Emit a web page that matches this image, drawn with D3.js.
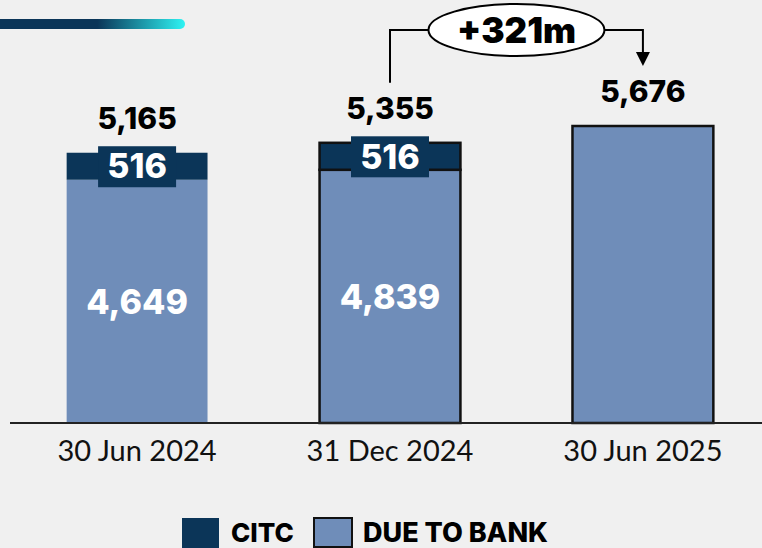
<!DOCTYPE html>
<html>
<head>
<meta charset="utf-8">
<script src="https://cdn.jsdelivr.net/npm/d3@7"></script>
<style>
  html, body { margin: 0; padding: 0; background: #f0f0f0; }
  svg { display: block; }
</style>
</head>
<body>
<div id="chart"></div>
<script>
// ---------------- data ----------------
var categories = ["30 Jun 2024", "31 Dec 2024", "30 Jun 2025"];
var dueToBank = [4649, 4839, 5676];
var citc = [516, 516, 0];
var totals = [5165, 5355, 5676];
var changeLabel = "+321m";
var legendLabels = ["CITC", "DUE TO BANK"];

// ---------------- setup ----------------
var svgWidth = 762, svgHeight = 548;
var navy = "#0b3558", blue = "#6f8db9";
var boldFont = "Inter, 'Noto Sans', sans-serif";

var svg = d3.select("#chart").append("svg")
    .attr("width", svgWidth)
    .attr("height", svgHeight);

svg.append("rect").attr("width", svgWidth).attr("height", svgHeight).attr("fill", "#f0f0f0");

// header accent bar
var grad = svg.append("defs").append("linearGradient").attr("id", "hdr");
grad.append("stop").attr("offset", "0%").attr("stop-color", navy);
grad.append("stop").attr("offset", "55%").attr("stop-color", navy);
grad.append("stop").attr("offset", "100%").attr("stop-color", "#2ef3f3");
svg.append("rect").attr("x", -10).attr("y", 19).attr("width", 195).attr("height", 10)
    .attr("rx", 5).attr("fill", "url(#hdr)");

var x = d3.scaleBand()
    .domain(categories)
    .range([10, 770])
    .paddingInner(0.443)
    .paddingOuter(0.224);

var y = d3.scaleLinear()
    .domain([0, d3.max(totals)])
    .range([423, 126]);

var rows = categories.map(function(c, i) {
    return { cat: c, i: i, due: dueToBank[i], citc: citc[i], total: totals[i] };
});

// ---------------- bars ----------------
var bars = svg.append("g").selectAll("g").data(rows).enter().append("g");

bars.append("rect")
    .attr("x", d => x(d.cat))
    .attr("width", x.bandwidth())
    .attr("y", d => y(d.due))
    .attr("height", d => y(0) - y(d.due))
    .attr("fill", blue)
    .attr("stroke", d => d.i > 0 ? "#111" : "none")
    .attr("stroke-width", 2.5);

bars.filter(d => d.citc > 0).append("rect")
    .attr("x", d => x(d.cat))
    .attr("width", x.bandwidth())
    .attr("y", d => y(d.due + d.citc))
    .attr("height", d => y(d.due) - y(d.due + d.citc))
    .attr("fill", navy)
    .attr("stroke", d => d.i > 0 ? "#111" : "none")
    .attr("stroke-width", 2.5);

// CITC value badges
var badge = bars.filter(d => d.citc > 0).append("g")
    .attr("transform", d => "translate(" + (x(d.cat) + x.bandwidth() / 2) + "," + ((y(d.due) + y(d.due + d.citc)) / 2) + ")");
badge.append("rect").attr("x", -39).attr("y", -20).attr("width", 78).attr("height", 41).attr("fill", navy);
badge.append("text")
    .attr("text-anchor", "middle").attr("dy", "0.36em")
    .style("font-family", boldFont).style("font-weight", 800).style("font-size", "34px")
    .attr("fill", "#fff")
    .text(d => d3.format(",")(d.citc));

// due-to-bank values inside
bars.filter(d => d.citc > 0).append("text")
    .attr("x", d => x(d.cat) + x.bandwidth() / 2)
    .attr("y", d => (y(0) + y(d.due)) / 2)
    .attr("text-anchor", "middle").attr("dy", "0.36em")
    .style("font-family", boldFont).style("font-weight", 800).style("font-size", "34px")
    .attr("fill", "#fff")
    .text(d => d3.format(",")(d.due));

// totals
bars.append("text")
    .attr("x", d => x(d.cat) + x.bandwidth() / 2)
    .attr("y", d => y(d.total) - 24)
    .attr("text-anchor", "middle")
    .style("font-family", boldFont).style("font-weight", 800).style("font-size", "30px")
    .attr("fill", "#000")
    .text(d => d3.format(",")(d.total));

// ---------------- axis ----------------
svg.append("line")
    .attr("x1", 10).attr("x2", svgWidth).attr("y1", y(0)).attr("y2", y(0))
    .attr("stroke", "#222").attr("stroke-width", 2);

svg.append("g").selectAll("text").data(categories).enter().append("text")
    .attr("x", d => x(d) + x.bandwidth() / 2)
    .attr("y", 461)
    .attr("text-anchor", "middle")
    .style("font-family", "Lato, sans-serif").style("font-size", "29px")
    .attr("fill", "#111")
    .text(d => d);

// ---------------- change annotation ----------------
var xa = x(categories[1]) + x.bandwidth() / 2;
var xb = x(categories[2]) + x.bandwidth() / 2;
var ly = 30, ecx = (xa + xb) / 2, rx = 88, ry = 26;
var ann = svg.append("g");
ann.append("path")
    .attr("d", "M" + xa + "," + (y(totals[1]) - 60) + "V" + ly + "H" + (ecx - rx))
    .attr("fill", "none").attr("stroke", "#000").attr("stroke-width", 2);
ann.append("path")
    .attr("d", "M" + (ecx + rx) + "," + ly + "H" + xb + "V" + 54)
    .attr("fill", "none").attr("stroke", "#000").attr("stroke-width", 2);
ann.append("path")
    .attr("d", "M" + (xb - 7) + ",52L" + (xb + 7) + ",52L" + xb + ",66Z")
    .attr("fill", "#000");
ann.append("ellipse")
    .attr("cx", ecx).attr("cy", ly).attr("rx", rx).attr("ry", ry)
    .attr("fill", "#fff").attr("stroke", "#000").attr("stroke-width", 2);
ann.append("text")
    .attr("x", ecx).attr("y", ly).attr("dy", "0.36em")
    .attr("text-anchor", "middle")
    .style("font-family", boldFont).style("font-weight", 900).style("font-size", "35px")
    .text(changeLabel);

// ---------------- legend ----------------
var legend = svg.append("g");
legend.append("rect").attr("x", 182).attr("y", 518).attr("width", 37).attr("height", 30).attr("fill", navy);
legend.append("text").attr("x", 231).attr("y", 542)
    .style("font-family", boldFont).style("font-weight", 800).style("font-size", "26px")
    .text(legendLabels[0]);
legend.append("rect").attr("x", 314).attr("y", 518).attr("width", 38).attr("height", 29)
    .attr("fill", blue).attr("stroke", "#111").attr("stroke-width", 2);
legend.append("text").attr("x", 363).attr("y", 542)
    .style("font-family", boldFont).style("font-weight", 800).style("font-size", "27px")
    .text(legendLabels[1]);
</script>
</body>
</html>
